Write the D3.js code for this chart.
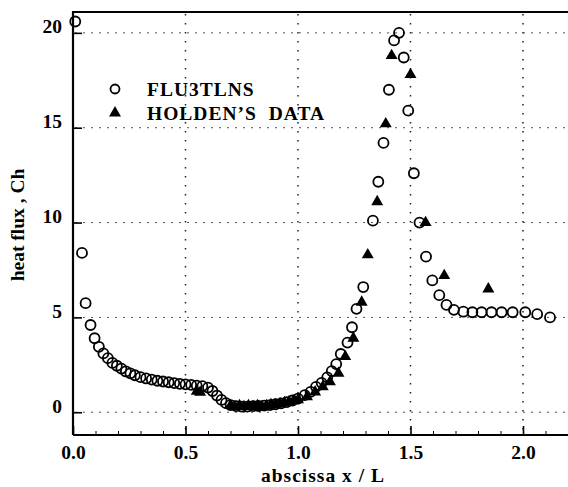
<!DOCTYPE html>
<html>
<head>
<meta charset="utf-8">
<script src="https://cdn.jsdelivr.net/npm/d3@7"></script>
<style>
	body { margin: 0; background: #fff; }
	svg text { font-family: "Liberation Serif", "DejaVu Serif", serif; font-weight: bold; fill: #000; }
</style>
</head>
<body>
<svg id="svgarea" width="568" height="487"></svg>
<script>
// FLU3TLNS computed heat flux (x / L, Ch)
const fluX = [0.01, 0.04, 0.056, 0.078, 0.096, 0.115, 0.135, 0.155, 0.175, 0.195, 0.215, 0.235, 0.255, 0.275,
	0.3, 0.325, 0.35, 0.375, 0.4, 0.425, 0.45, 0.475, 0.5, 0.525, 0.55, 0.575, 0.6, 0.62, 0.64, 0.66, 0.68,
	0.7, 0.725, 0.75, 0.775, 0.8, 0.825, 0.85, 0.875, 0.9, 0.925, 0.95, 0.975,
	1.0, 1.03, 1.056, 1.08, 1.105, 1.13, 1.15, 1.17, 1.19, 1.22, 1.24, 1.26, 1.29,
	1.333, 1.357, 1.38, 1.404, 1.427, 1.449, 1.47, 1.49, 1.515, 1.54, 1.569, 1.597, 1.628, 1.66, 1.693,
	1.735, 1.775, 1.816, 1.86, 1.905, 1.954, 2.01, 2.063, 2.12];
const fluY = [20.6, 8.4, 5.75, 4.6, 3.9, 3.45, 3.1, 2.85, 2.6, 2.45, 2.3, 2.15, 2.05, 1.95,
	1.85, 1.78, 1.72, 1.66, 1.62, 1.58, 1.54, 1.5, 1.47, 1.44, 1.4, 1.38, 1.3, 1.12, 0.88, 0.65, 0.48,
	0.38, 0.32, 0.3, 0.3, 0.32, 0.33, 0.35, 0.38, 0.42, 0.47, 0.53, 0.62,
	0.72, 0.9, 1.07, 1.34, 1.55, 1.84, 2.17, 2.54, 3.07, 3.67, 4.48, 5.45, 6.6,
	10.1, 12.15, 14.2, 17.0, 19.6, 20.0, 18.7, 15.9, 12.6, 10.0, 8.2, 6.95, 6.17, 5.66, 5.4,
	5.3, 5.27, 5.27, 5.27, 5.27, 5.27, 5.27, 5.17, 5.0];

// Holden's experimental data
const holdenX = [0.55, 0.565, 0.7, 0.72, 0.74, 0.76, 0.78, 0.8, 0.82, 0.84, 0.86, 0.88, 0.9, 0.92, 0.94, 0.96, 0.98,
	1.0, 1.04, 1.076, 1.11, 1.142, 1.18, 1.21, 1.246, 1.283, 1.31, 1.352, 1.39, 1.416, 1.5, 1.567, 1.65, 1.846];
const holdenY = [1.1, 1.05, 0.35, 0.3, 0.35, 0.3, 0.35, 0.3, 0.35, 0.3, 0.35, 0.4, 0.4, 0.45, 0.5, 0.55, 0.6,
	0.65, 0.81, 1.07, 1.34, 1.6, 2.05, 2.93, 3.9, 5.8, 8.3, 11.1, 15.2, 18.8, 17.8, 10.0, 7.2, 6.5];

const xMajor = [0.0, 0.5, 1.0, 1.5, 2.0];
const xMinor = d3.range(0, 22).map(i => i / 10);
const yMajor = [0, 5, 10, 15, 20];
const legendLabels = ['FLU3TLNS', 'HOLDEN\u2019S DATA'];

var svg = d3.select('#svgarea');
var x = d3.scaleLinear().domain([0, 2.2]).range([73, 568]);
var y = d3.scaleLinear().domain([-1.2, 21.1]).range([435, 12]);

// grid
svg.append('g').selectAll('line').data(xMajor.slice(1)).join('line')
	.attr('x1', d => x(d)).attr('x2', d => x(d))
	.attr('y1', 14).attr('y2', 435)
	.attr('stroke', '#222').attr('stroke-width', 1.5).attr('stroke-dasharray', '1.5,7.5');
svg.append('g').selectAll('line').data(yMajor).join('line')
	.attr('x1', 75).attr('x2', 568)
	.attr('y1', d => y(d)).attr('y2', d => y(d))
	.attr('stroke', '#555').attr('stroke-width', 1).attr('stroke-dasharray', '2,6');

// axes
var xAxis = svg.append('g').attr('transform', 'translate(0,435)')
	.call(d3.axisBottom(x).tickValues(xMajor).tickSize(-9).tickPadding(10).tickFormat(d3.format('.1f')));
svg.append('g').attr('transform', 'translate(0,435)')
	.call(d3.axisBottom(x).tickValues(xMinor.filter(v => !xMajor.includes(v))).tickSize(-4).tickFormat(''))
	.select('.domain').remove();
var yAxis = svg.append('g').attr('transform', 'translate(73,0)')
	.call(d3.axisLeft(y).tickValues(yMajor).tickSize(-9).tickPadding(11));
yAxis.selectAll('text').attr('dy', '0');
[xAxis, yAxis].forEach(function(a){
	a.selectAll('text').style('font-size', '19.5px').attr('font-family', null);
	a.select('.domain').attr('stroke-width', 2.2);
	a.selectAll('.tick line').attr('stroke-width', 1.6);
});
xAxis.select('.domain').attr('d', 'M73,0H568');
yAxis.select('.domain').attr('d', 'M0,12V435');
svg.append('line').attr('x1', 72).attr('x2', 568).attr('y1', 12).attr('y2', 12)
	.attr('stroke', '#000').attr('stroke-width', 2.2);

// axis titles
svg.append('text').attr('x', 323).attr('y', 482).attr('text-anchor', 'middle')
	.style('font-size', '19.5px').style('letter-spacing', '1px').text('abscissa x / L');
svg.append('text').attr('transform', 'translate(24,225) rotate(-90)').attr('text-anchor', 'middle')
	.style('font-size', '19.5px').text('heat flux , Ch');

// data
var tri = d3.symbol().type(d3.symbolTriangle).size(62);
svg.append('g').selectAll('path').data(holdenX).join('path')
	.attr('d', tri)
	.attr('transform', (d, i) => 'translate(' + x(d) + ',' + y(holdenY[i]) + ')')
	.attr('fill', '#000');
svg.append('g').selectAll('circle').data(fluX).join('circle')
	.attr('cx', d => x(d)).attr('cy', (d, i) => y(fluY[i]))
	.attr('r', 5).attr('fill', 'none').attr('stroke', '#000').attr('stroke-width', 1.8);

// legend
var legend = svg.append('g');
legend.append('circle').attr('cx', 115).attr('cy', 89).attr('r', 4.5)
	.attr('fill', 'none').attr('stroke', '#000').attr('stroke-width', 1.8);
legend.append('path').attr('d', tri).attr('transform', 'translate(115,113)').attr('fill', '#000');
legend.selectAll('text').data(legendLabels).join('text')
	.attr('x', 147).attr('y', (d, i) => 96 + i * 24)
	.style('font-size', '19.5px').style('letter-spacing', '1px').style('word-spacing', '6px')
	.text(d => d);
</script>
</body>
</html>
